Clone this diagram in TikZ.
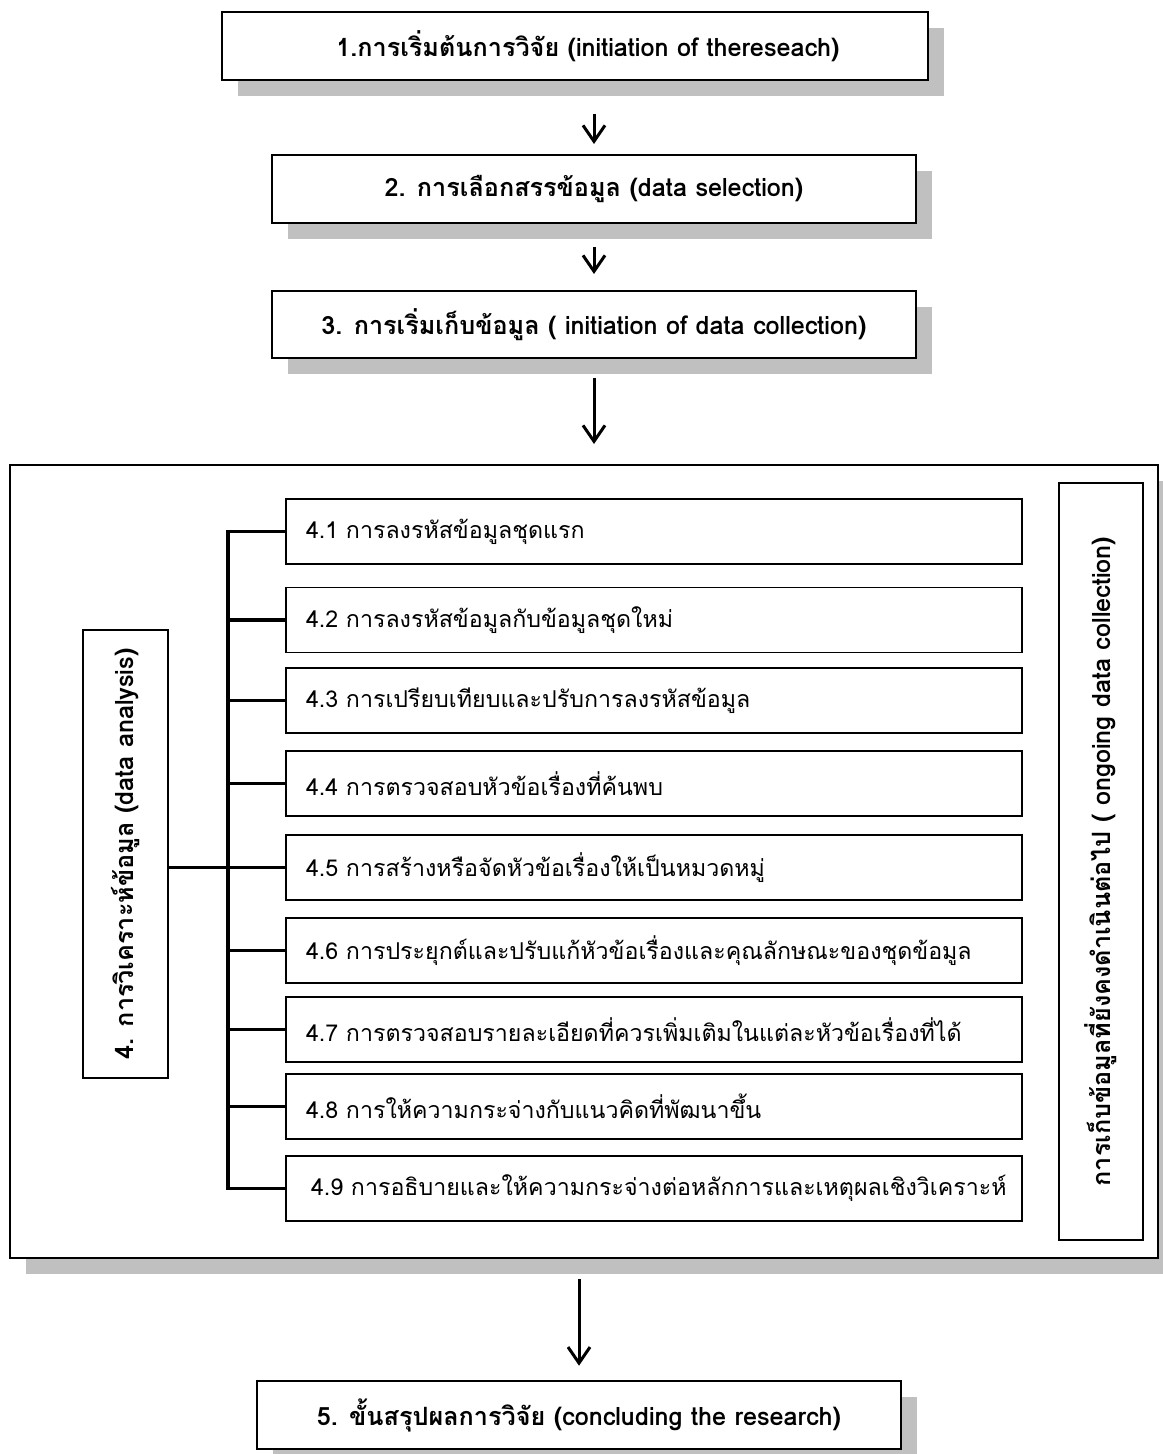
\documentclass[tikz,border=0pt]{standalone}
\usepackage{fontspec}
\newfontfamily\thai[Script=Thai]{Loma}
\usetikzlibrary{arrows.meta,shadows}
\definecolor{shadowgray}{RGB}{192,192,192}

\begin{document}
\begin{tikzpicture}[x=0.5pt,y=-0.5pt,
  base/.style={font=\thai\fontsize{11.6}{14}\selectfont},
  bold/.style={font=\thai\bfseries\fontsize{12.6}{15}\selectfont},
  shade/.style={drop shadow={shadow xshift=8pt,shadow yshift=-8pt,fill=shadowgray,opacity=1}},
  stepbox/.style={bold,draw,line width=1pt,fill=white,inner sep=0pt,
    minimum height=34pt,shade},
  subbox/.style={base,draw,line width=0.9pt,fill=white,inner xsep=10pt,inner ysep=0pt,
    text width=348pt,align=left,minimum height=32.5pt},
  sidebox/.style={bold,draw,line width=0.9pt,fill=white,inner sep=0pt,rotate=90},
  flow/.style={line width=1.5pt,-{Straight Barb[length=8pt,width=11pt,line width=1.5pt]}},
  bus/.style={line width=1.8pt}]
\useasboundingbox (0,0) rectangle (1162,1454);

% main steps
\node[stepbox,minimum width=353pt] (s1) at (575,46) {\hspace*{13pt}1.การเริ่มต้นการวิจัย (initiation of thereseach)};
\node[stepbox,minimum width=322pt] (s2) at (594,189) {2. การเลือกสรรข้อมูล (data selection)};
\node[stepbox,minimum width=322pt,minimum height=33.5pt] (s3) at (594,324.5) {3. การเริ่มเก็บข้อมูล ( initiation of data collection)};

% analysis frame
\node[draw,line width=1pt,fill=white,minimum width=574pt,minimum height=396.5pt,
  inner sep=0pt,shade] (frame) at (584,861.5) {};

\node[stepbox,minimum width=322pt,line width=1.3pt] (s5) at (579,1415) {5. ขั้นสรุปผลการวิจัย (concluding the research)};

% sub-steps of the analysis
\node[subbox] (a1) at (654,531.5) {4.1 การลงรหัสข้อมูลชุดแรก};
\node[subbox] (a2) at (654,620) {4.2 การลงรหัสข้อมูลกับข้อมูลชุดใหม่};
\node[subbox] (a3) at (654,700.5) {4.3 การเปรียบเทียบและปรับการลงรหัสข้อมูล};
\node[subbox] (a4) at (654,783.5) {4.4 การตรวจสอบหัวข้อเรื่องที่ค้นพบ};
\node[subbox] (a5) at (654,867.5) {4.5 การสร้างหรือจัดหัวข้อเรื่องให้เป็นหมวดหมู่};
\node[subbox] (a6) at (654,950.5) {4.6 การประยุกต์และปรับแก้หัวข้อเรื่องและคุณลักษณะของชุดข้อมูล};
\node[subbox] (a7) at (654,1029.5) {4.7 การตรวจสอบรายละเอียดที่ควรเพิ่มเติมในแต่ละหัวข้อเรื่องที่ได้};
\node[subbox] (a8) at (654,1106.5) {4.8 การให้ความกระจ่างกับแนวคิดที่พัฒนาขึ้น};
\node[subbox] (a9) at (654,1188.5) {\hspace*{2.5pt}4.9 การอธิบายและให้ความกระจ่างต่อหลักการและเหตุผลเชิงวิเคราะห์};

% side labels
\node[sidebox,minimum width=224pt,minimum height=42.5pt] (anal) at (125.5,854) {4. การวิเคราะห์ข้อมูล (data analysis)};
\node[sidebox,minimum width=378.5pt,minimum height=42pt] (ongo) at (1101,861.5) {การเก็บข้อมูลที่ยังคงดำเนินต่อไป ( ongoing data collection)};

% bracket joining the sub-steps
\coordinate (busx) at (228,0);
\draw[bus] (a1.west) -- (a1.west -| busx) |- (a9.west);
\foreach \k in {2,3,4,6,7,8}
  \draw[bus] (a\k.west) -- (a\k.west -| busx);
\draw[bus] (anal.south |- a5.west) -- (a5.west);

% flow arrows
\draw[flow,shorten <=16.5pt,shorten >=5pt] (s1.south -| s2.north) -- (s2.north);
\draw[flow,shorten <=11.5pt,shorten >=8pt] (s2.south) -- (s3.north);
\draw[flow,shorten <=9.5pt,shorten >=10pt] (s3.south) -- (s3.south |- frame.north);
\draw[flow,shorten <=10pt,shorten >=7pt] (frame.south -| s5.north) -- (s5.north);
\end{tikzpicture}
\end{document}
